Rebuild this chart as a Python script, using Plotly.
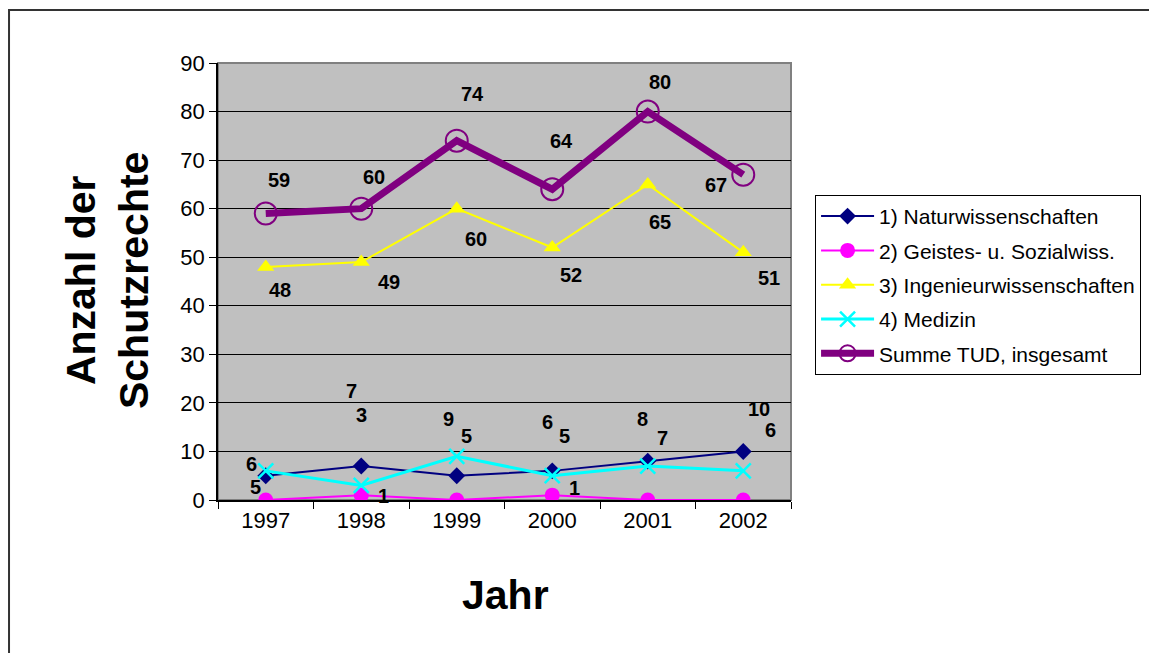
import plotly.graph_objects as go

years = ["1997", "1998", "1999", "2000", "2001", "2002"]
natur = [5, 7, 5, 6, 8, 10]
geistes = [0, 1, 0, 1, 0, 0]
ingenieur = [48, 49, 60, 52, 65, 51]
medizin = [6, 3, 9, 5, 7, 6]
summe = [59, 60, 74, 64, 80, 67]

names = ["1) Naturwissenschaften", "2) Geistes- u. Sozialwiss.",
         "3) Ingenieurwissenschaften", "4) Medizin", "Summe TUD, insgesamt"]

FONT = "Arial, Liberation Sans, sans-serif"

fig = go.Figure()
fig.add_trace(go.Scatter(x=years, y=natur, name=names[0], mode="lines+markers", legendgroup="a",
                         line=dict(color="#000080", width=2),
                         marker=dict(symbol="diamond", size=13, color="#000080")))
fig.add_trace(go.Scatter(x=years, y=geistes, name=names[1], mode="lines+markers", legendgroup="b",
                         line=dict(color="#FF00FF", width=2),
                         marker=dict(symbol="circle", size=15, color="#FF00FF")))
fig.add_trace(go.Scatter(x=years, y=ingenieur, name=names[2], mode="lines+markers", legendgroup="c",
                         line=dict(color="#FFFF00", width=2),
                         marker=dict(symbol="triangle-up", size=15, color="#FFFF00")))
fig.add_trace(go.Scatter(x=years, y=medizin, name=names[3], mode="lines+markers", legendgroup="d",
                         line=dict(color="#00FFFF", width=3),
                         marker=dict(symbol="x-thin-open", size=15,
                                     line=dict(color="#00FFFF", width=2.5))))
fig.add_trace(go.Scatter(x=years, y=summe, name=names[4], mode="lines+markers", legendgroup="e",
                         line=dict(color="#800080", width=7),
                         marker=dict(symbol="circle-open", size=22,
                                     line=dict(color="#800080", width=2))))

# label offsets (pixels; dx right, dy down) mimicking the original placement
offsets = {
    "summe": [(13, -34), (13, -32), (16, -47), (9, -48), (12, -30), (-27, 10)],
    "ingenieur": [(14, 23), (28, 20), (19, 30), (19, 27), (12, 38), (26, 26)],
    "natur": [(-10, 11), (-10, -75), (10, -40), (-5, -49), (-5, -42), (16, -42)],
    "medizin": [(-14, -7), (0, -70), (-8, -37), (12, -40), (15, -28), (27, -41)],
    "geistes": [None, (22, 1), None, (22, -7), None, None],
}
series = {"summe": summe, "ingenieur": ingenieur, "natur": natur,
          "medizin": medizin, "geistes": geistes}

annotations = []
for key, vals in series.items():
    for i, v in enumerate(vals):
        off = offsets[key][i]
        if off is None:
            continue
        annotations.append(dict(x=i, y=v, xref="x", yref="y", text="<b>%d</b>" % v,
                                showarrow=False, xshift=off[0], yshift=-off[1],
                                font=dict(family=FONT, size=20, color="black")))

# axis titles
annotations.append(dict(x=-0.194, y=0.503, xref="paper", yref="paper",
                        text="<b>Anzahl der<br>Schutzrechte</b>", showarrow=False,
                        textangle=-90, font=dict(family=FONT, size=41, color="black"),
                        xanchor="center", yanchor="middle"))
annotations.append(dict(x=0.501, y=-0.217, xref="paper", yref="paper",
                        text="<b>Jahr</b>", showarrow=False,
                        font=dict(family=FONT, size=41, color="black"),
                        xanchor="center", yanchor="middle"))

shapes = [
    # outer frame
    dict(type="rect", xref="paper", yref="paper", x0=-0.3647, x1=1.7, y0=-0.45, y1=1.1213,
         line=dict(color="#333333", width=2), layer="below"),
    # plot area border
    dict(type="rect", xref="paper", yref="paper", x0=0, x1=1, y0=0, y1=1,
         line=dict(color="#808080", width=2), layer="below"),
]

fig.update_layout(
    width=1149, height=653,
    margin=dict(l=218, r=358, t=63, b=153, autoexpand=False),
    paper_bgcolor="white", plot_bgcolor="#C0C0C0",
    font=dict(family=FONT, color="black"),
    showlegend=True,
    legend=dict(x=1.042, y=0.698, xanchor="left", yanchor="top",
                bgcolor="white", bordercolor="black", borderwidth=1,
                font=dict(family=FONT, size=21, color="black"),
                traceorder="grouped", itemwidth=53, tracegroupgap=4),
    annotations=annotations,
    shapes=shapes,
)
fig.update_xaxes(type="category", range=[-0.5, 5.5], showgrid=False,
                 showline=True, linecolor="black", linewidth=1.5,
                 ticks="outside", tickson="boundaries", ticklen=7, tickcolor="black",
                 tickfont=dict(family=FONT, size=22, color="black"), zeroline=False)
fig.update_yaxes(range=[0, 90], dtick=10, showgrid=True, gridcolor="black", gridwidth=1,
                 showline=True, linecolor="black", linewidth=1.5,
                 ticks="outside", ticklen=7, tickcolor="black",
                 tickfont=dict(family=FONT, size=22, color="black"), zeroline=False)

fig.write_html("out.html", config={"displayModeBar": False},
               post_script="document.body.style.margin='0';document.body.style.overflow='hidden';")
